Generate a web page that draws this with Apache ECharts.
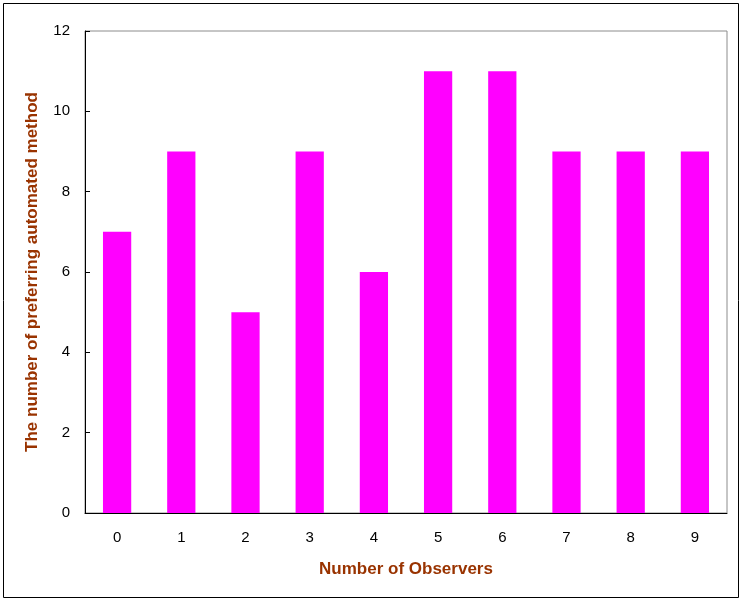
<!DOCTYPE html>
<html>
<head>
<meta charset="utf-8">
<style>
  html, body { margin: 0; padding: 0; background: #fff; }
  #barChart { width: 743px; height: 603px; }
</style>
<script src="https://cdn.jsdelivr.net/npm/echarts@6/dist/echarts.min.js"></script>
</head>
<body>
<div id="barChart"></div>
<script>
// observers on the x axis
const observers = ['0', '1', '2', '3', '4', '5', '6', '7', '8', '9']
// how many preferred the automated method
const preferCounts = [7, 9, 5, 9, 6, 11, 11, 9, 9, 9]

const titleColor = '#993300'

const myChart = echarts.init(document.getElementById('barChart'))
const option = {
  animation: false,
  graphic: [
    {
      type: 'rect',
      shape: { x: 3.5, y: 3.5, width: 735, height: 594 },
      style: { fill: 'none', stroke: '#000', lineWidth: 1 },
      silent: true
    }
  ],
  grid: {
    left: 85,
    top: 31,
    right: 16,
    bottom: 90,
    show: true,
    borderColor: '#8c8c8c',
    borderWidth: 1
  },
  xAxis: {
    type: 'category',
    data: observers,
    name: 'Number of Observers',
    nameLocation: 'middle',
    nameGap: 48,
    nameTextStyle: { color: titleColor, fontFamily: 'Liberation Sans', fontWeight: 'bold', fontSize: 17 },
    axisLine: { lineStyle: { color: '#000', width: 1 } },
    axisTick: { inside: true, length: 5, lineStyle: { color: '#000' } },
    axisLabel: { color: '#000', fontFamily: 'Liberation Sans', fontSize: 15, margin: 17 }
  },
  yAxis: {
    type: 'value',
    min: 0,
    max: 12,
    interval: 2,
    name: 'The number of preferring automated method',
    nameLocation: 'middle',
    nameGap: 44,
    nameTextStyle: { color: titleColor, fontFamily: 'Liberation Sans', fontWeight: 'bold', fontSize: 17 },
    axisLine: { show: true, lineStyle: { color: '#000', width: 1 } },
    axisTick: { show: true, inside: true, length: 5, lineStyle: { color: '#000' } },
    axisLabel: { color: '#000', fontFamily: 'Liberation Sans', fontSize: 15, margin: 15 },
    splitLine: { show: false }
  },
  series: [
    {
      name: 'preferring automated method',
      type: 'bar',
      data: preferCounts,
      barWidth: '44%',
      itemStyle: { color: '#ff00ff' }
    }
  ]
}
option && myChart.setOption(option)
</script>
</body>
</html>
